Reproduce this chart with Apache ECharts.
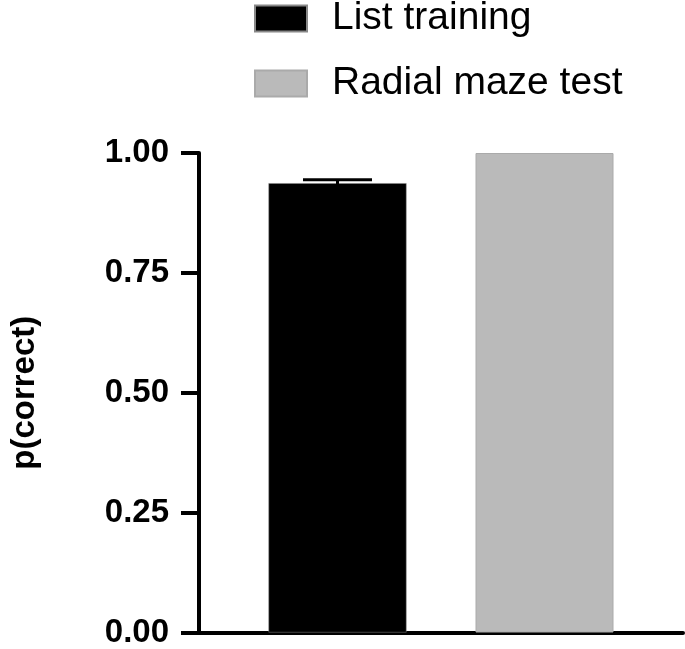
<!DOCTYPE html>
<html>
<head>
<meta charset="utf-8">
<script src="https://cdn.jsdelivr.net/npm/echarts@6/dist/echarts.min.js"></script>
<style>
html,body{margin:0;padding:0;background:#fff;}
#chart{width:685px;height:649px;}
</style>
</head>
<body>
<div id="chart"></div>
<script>
// Data
const categories = [''];
const seriesNames = ['List training', 'Radial maze test'];
const listTraining = [0.937];
const listTrainingErr = [0.007];
const radialMaze = [1.0];
const yTicks = [0, 0.25, 0.5, 0.75, 1.0];

const FONT = '"Liberation Sans", Arial, Helvetica, sans-serif';
const BAR_W = 138;
const BAR_GAP = 0.5; // fraction of bar width

const chart = echarts.init(document.getElementById('chart'), null, {renderer: 'canvas'});

const option = {
  animation: false,
  backgroundColor: '#ffffff',
  grid: {left: 196, right: 2, top: 153, bottom: 15, containLabel: false},
  legend: {
    orient: 'vertical',
    left: 249,
    top: -6,
    itemWidth: 52,
    itemHeight: 26,
    itemGap: 26,
    icon: 'rect',
    data: seriesNames,
    textStyle: {fontFamily: FONT, fontSize: 39, color: '#000', padding: [0, 0, 0, 20]}
  },
  xAxis: {
    type: 'category',
    data: categories,
    axisLine: {show: true, lineStyle: {color: '#000', width: 4}},
    axisTick: {show: false},
    axisLabel: {show: false},
    splitLine: {show: false}
  },
  yAxis: {
    type: 'value',
    min: 0,
    max: 1,
    interval: 0.25,
    name: 'p(correct)',
    nameLocation: 'middle',
    nameGap: 158,
    nameTextStyle: {fontFamily: FONT, fontSize: 33, fontWeight: 'bold', color: '#000'},
    axisLine: {show: true, lineStyle: {color: '#000', width: 4}},
    axisTick: {show: true, inside: false, length: 18, lineStyle: {color: '#000', width: 4}},
    axisLabel: {
      margin: 30,
      fontFamily: FONT, fontSize: 33, fontWeight: 'bold', color: '#000',
      formatter: v => v.toFixed(2)
    },
    splitLine: {show: false}
  },
  series: [
    {
      name: seriesNames[0],
      type: 'bar',
      data: listTraining,
      barWidth: BAR_W,
      barGap: (BAR_GAP * 100) + '%',
      itemStyle: {color: '#000000', borderColor: '#888', borderWidth: 0.5}
    },
    {
      name: seriesNames[1],
      type: 'bar',
      data: radialMaze,
      barWidth: BAR_W,
      itemStyle: {color: '#bababa', borderColor: '#aaaaaa', borderWidth: 1}
    },
    {
      name: 'err',
      type: 'custom',
      z: 5,
      data: listTraining.map((v, i) => [i, v, listTrainingErr[i]]),
      renderItem: function (params, api) {
        const idx = api.value(0);
        const mean = api.value(1);
        const err = api.value(2);
        const c = api.coord([idx, mean]);
        const offset = -(BAR_W + BAR_W * BAR_GAP) / 2;
        const x = c[0] + offset;
        const top = api.coord([idx, mean + err])[1];
        const bot = api.coord([idx, mean - err])[1];
        const half = BAR_W / 4;
        return {
          type: 'group',
          children: [
            {type: 'line', shape: {x1: x, y1: top, x2: x, y2: bot}, style: {stroke: '#000', lineWidth: 3}},
            {type: 'line', shape: {x1: x - half, y1: top, x2: x + half, y2: top}, style: {stroke: '#000', lineWidth: 3}},
            {type: 'line', shape: {x1: x - half, y1: bot, x2: x + half, y2: bot}, style: {stroke: '#000', lineWidth: 3}}
          ]
        };
      }
    }
  ]
};
chart.setOption(option);
</script>
</body>
</html>
